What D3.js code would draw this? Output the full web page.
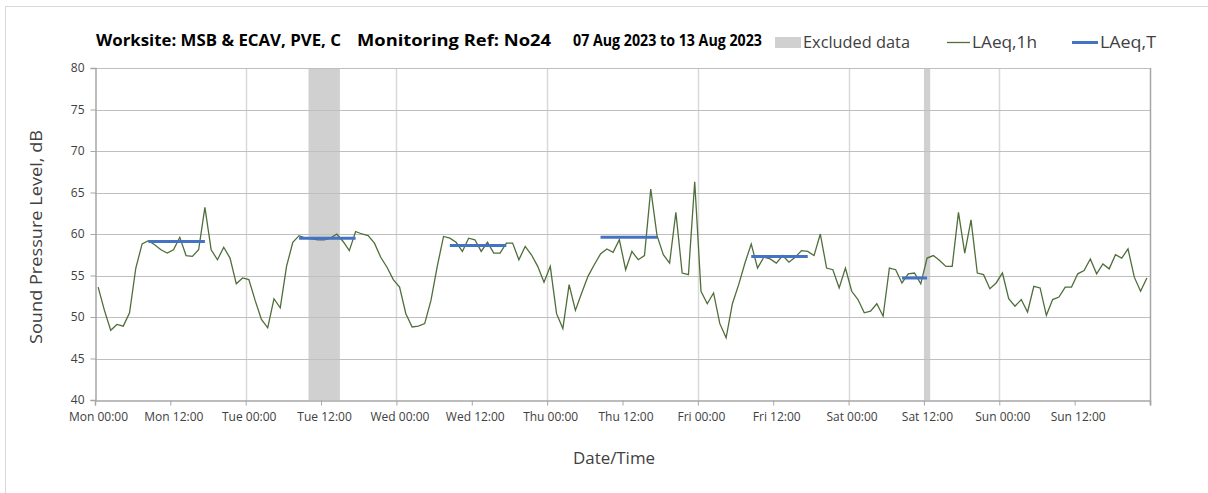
<!DOCTYPE html>
<html>
<head>
<meta charset="utf-8">
<script src="https://cdn.jsdelivr.net/npm/d3@7"></script>
<style>
  body { margin: 0; background: #fff; }
  svg { font-family: 'Open Sans', sans-serif; }
</style>
</head>
<body>
<div id="chart"></div>
<script>
// hourly LAeq,1h values, one array per day (hour 00 .. 23)
const mon = [53.6, 50.8, 48.4, 49.1, 48.9, 50.5, 55.9, 58.8, 59.2, 58.7, 58.1, 57.7, 58.1, 59.6, 57.4, 57.3, 58.1, 63.2, 58.1, 56.9, 58.4, 57.1, 54.0, 54.7]
const tue = [54.5, 52.0, 49.7, 48.7, 52.2, 51.1, 56.1, 59.0, 59.8, 59.5, 59.4, 59.3, 59.3, 59.5, 60.0, 59.1, 58.0, 60.3, 60.0, 59.8, 58.9, 57.2, 56.0, 54.5]
const wed = [53.6, 50.4, 48.8, 48.9, 49.2, 52.0, 56.1, 59.7, 59.5, 59.0, 57.9, 59.5, 59.3, 57.9, 59.0, 57.7, 57.7, 58.9, 58.9, 56.9, 58.5, 57.5, 56.1, 54.2]
const thu = [56.1, 50.4, 48.6, 53.9, 50.8, 52.9, 54.9, 56.3, 57.6, 58.2, 57.8, 59.3, 55.7, 57.9, 56.9, 57.4, 65.4, 59.8, 57.5, 56.5, 62.6, 55.3, 55.1, 66.3]
const fri = [53.1, 51.6, 52.9, 49.2, 47.5, 51.6, 53.9, 56.5, 58.8, 55.9, 57.2, 57.0, 56.5, 57.4, 56.6, 57.2, 58.0, 57.9, 57.4, 60.0, 55.9, 55.7, 53.5, 55.9]
const sat = [53.1, 52.1, 50.5, 50.7, 51.6, 50.1, 55.9, 55.7, 54.1, 55.2, 55.3, 54.0, 57.1, 57.4, 56.8, 56.1, 56.1, 62.6, 57.7, 61.7, 55.3, 55.1, 53.4, 54.1]
const sun = [55.3, 52.2, 51.3, 52.1, 50.6, 53.7, 53.5, 50.2, 52.1, 52.4, 53.6, 53.6, 55.2, 55.6, 57.0, 55.2, 56.4, 55.8, 57.5, 57.1, 58.2, 54.8, 53.1, 54.7]
const laeq1h = [].concat(mon, tue, wed, thu, fri, sat, sun)

// LAeq,T periods (hour index of first and last hour) and level
const periodStart = [8, 32, 56, 80, 104, 128]
const periodEnd = [17, 41, 65, 89, 113, 132]
const periodLevel = [59.1, 59.5, 58.6, 59.6, 57.3, 54.7]

// excluded data (hours from Mon 00:00)
const exclStart = [34, 132]
const exclEnd = [39, 133]

const tickLabels = ['Mon 00:00', 'Mon 12:00', 'Tue 00:00', 'Tue 12:00', 'Wed 00:00', 'Wed 12:00',
  'Thu 00:00', 'Thu 12:00', 'Fri 00:00', 'Fri 12:00', 'Sat 00:00', 'Sat 12:00', 'Sun 00:00', 'Sun 12:00']
const yTicks = [40, 45, 50, 55, 60, 65, 70, 75, 80]

const width = 1208
const height = 493
const plotLeft = 95
const plotRight = 1150
const plotTop = 68
const plotBottom = 400

const svg = d3.select('#chart').append('svg')
  .attr('width', width)
  .attr('height', height)

// chart border
svg.append('rect')
  .attr('x', 5.5).attr('y', 6.5)
  .attr('width', width + 10).attr('height', height + 10)
  .attr('fill', 'none').attr('stroke', '#d9d9d9')

const x = d3.scaleLinear().domain([0, 168]).range([plotLeft, plotRight])
const y = d3.scaleLinear().domain([40, 80]).range([plotBottom, plotTop])

// excluded bands
svg.append('g').selectAll('rect')
  .data(exclStart)
  .enter().append('rect')
  .attr('x', (d) => x(d))
  .attr('width', (d, i) => x(exclEnd[i]) - x(d))
  .attr('y', plotTop)
  .attr('height', plotBottom - plotTop)
  .attr('fill', '#d0d0d0')

// vertical gridlines each day
svg.append('g').selectAll('line')
  .data(d3.range(24, 168, 24))
  .enter().append('line')
  .attr('x1', (d) => Math.round(x(d)) + 0.5).attr('x2', (d) => Math.round(x(d)) + 0.5)
  .attr('y1', plotTop).attr('y2', plotBottom)
  .attr('stroke', '#d9d9d9').attr('stroke-width', 1.5)

// horizontal gridlines
svg.append('g').selectAll('line')
  .data(yTicks.slice(1))
  .enter().append('line')
  .attr('x1', plotLeft).attr('x2', plotRight)
  .attr('y1', (d) => Math.round(y(d)) + 0.5).attr('y2', (d) => Math.round(y(d)) + 0.5)
  .attr('stroke', '#bfbfbf').attr('stroke-width', 1.2)

// right edge
svg.append('line')
  .attr('x1', plotRight + 0.5).attr('x2', plotRight + 0.5)
  .attr('y1', plotTop).attr('y2', plotBottom + 5)
  .attr('stroke', '#a6a6a6').attr('stroke-width', 1.5)

// y axis
const yAxis = svg.append('g')
  .attr('transform', `translate(${plotLeft + 0.5},0)`)
  .call(d3.axisLeft(y).tickValues(yTicks).tickSize(5).tickPadding(6))
yAxis.select('.domain').attr('stroke', '#a6a6a6').attr('stroke-width', 1.5)
yAxis.selectAll('.tick line').attr('stroke', '#a6a6a6')
yAxis.selectAll('.tick text').attr('font-size', 12).attr('fill', '#404040')
  .attr('font-family', "'Open Sans', sans-serif")

// x axis
const xAxis = svg.append('g')
  .attr('transform', `translate(0,${plotBottom + 0.5})`)
  .call(d3.axisBottom(x).tickValues(d3.range(0, 169, 12)).tickSize(5).tickPadding(7)
    .tickFormat((d, i) => tickLabels[i] || ''))
xAxis.select('.domain').attr('stroke', '#a6a6a6').attr('stroke-width', 1.5)
xAxis.selectAll('.tick line').attr('stroke', '#a6a6a6')
xAxis.selectAll('.tick text').attr('font-size', 12).attr('fill', '#404040')
  .attr('dx', 3)
  .attr('font-family', "'Open Sans', sans-serif")

// LAeq,1h line
const line = d3.line()
  .x((d, i) => x(i + 0.5))
  .y((d) => y(d))

svg.append('path')
  .datum(laeq1h)
  .attr('d', line)
  .attr('fill', 'none')
  .attr('stroke', '#4f6e3a')
  .attr('stroke-width', 1.3)

// LAeq,T segments
svg.append('g').selectAll('line')
  .data(periodLevel)
  .enter().append('line')
  .attr('x1', (d, i) => x(periodStart[i] + 0.5))
  .attr('x2', (d, i) => x(periodEnd[i] + 0.5))
  .attr('y1', (d) => y(d)).attr('y2', (d) => y(d))
  .attr('stroke', '#4472c4')
  .attr('stroke-width', 3)

// title
const title = svg.append('g').attr('font-weight', 'bold').attr('font-size', 15.5).attr('fill', '#000')
title.append('text').attr('x', 96).attr('y', 46).attr('textLength', 245).attr('lengthAdjust', 'spacingAndGlyphs')
  .text('Worksite: MSB & ECAV, PVE, C')
title.append('text').attr('x', 357).attr('y', 46).attr('textLength', 194).attr('lengthAdjust', 'spacingAndGlyphs')
  .text('Monitoring Ref: No24')
title.append('text').attr('x', 573).attr('y', 46).attr('textLength', 189).attr('lengthAdjust', 'spacingAndGlyphs')
  .text('07 Aug 2023 to 13 Aug 2023')

// legend
const legend = svg.append('g').attr('font-size', 16).attr('fill', '#404040')
legend.append('rect').attr('x', 775).attr('y', 37).attr('width', 26).attr('height', 11).attr('fill', '#d0d0d0')
legend.append('text').attr('x', 803).attr('y', 48).attr('fill', '#404040')
  .attr('textLength', 107).attr('lengthAdjust', 'spacingAndGlyphs').text('Excluded data')
legend.append('line').attr('x1', 947).attr('x2', 970).attr('y1', 42.5).attr('y2', 42.5)
  .attr('stroke', '#4f6e3a').attr('stroke-width', 1.3)
legend.append('text').attr('x', 972).attr('y', 48).attr('fill', '#404040')
  .attr('textLength', 65).attr('lengthAdjust', 'spacingAndGlyphs').text('LAeq,1h')
legend.append('line').attr('x1', 1072).attr('x2', 1098).attr('y1', 42.5).attr('y2', 42.5)
  .attr('stroke', '#4472c4').attr('stroke-width', 3)
legend.append('text').attr('x', 1100).attr('y', 48).attr('fill', '#404040')
  .attr('textLength', 56).attr('lengthAdjust', 'spacingAndGlyphs').text('LAeq,T')

// axis titles
svg.append('text')
  .attr('transform', `translate(42,${(plotTop + plotBottom) / 2 + 3}) rotate(-90)`)
  .attr('text-anchor', 'middle')
  .attr('font-size', 16).attr('fill', '#404040')
  .attr('textLength', 214).attr('lengthAdjust', 'spacingAndGlyphs')
  .text('Sound Pressure Level, dB')

svg.append('text')
  .attr('x', 614).attr('y', 464)
  .attr('text-anchor', 'middle')
  .attr('font-size', 16).attr('fill', '#404040')
  .attr('textLength', 82).attr('lengthAdjust', 'spacingAndGlyphs')
  .text('Date/Time')
</script>
</body>
</html>
